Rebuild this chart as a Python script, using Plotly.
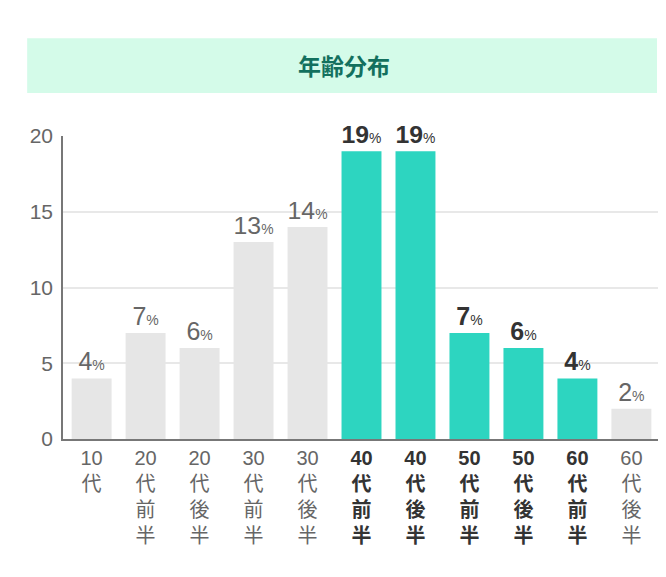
import plotly.graph_objects as go

categories = ["10<br>代", "20<br>代<br>前<br>半", "20<br>代<br>後<br>半", "30<br>代<br>前<br>半",
              "30<br>代<br>後<br>半", "40<br>代<br>前<br>半", "40<br>代<br>後<br>半", "50<br>代<br>前<br>半",
              "50<br>代<br>後<br>半", "60<br>代<br>前<br>半", "60<br>代<br>後<br>半"]
values = [4, 7, 6, 13, 14, 19, 19, 7, 6, 4, 2]
highlight = [False, False, False, False, False, True, True, True, True, True, False]

bar_colors = ["#2dd5c0" if h else "#e6e6e6" for h in highlight]
label_colors = ["#333333" if h else "#666666" for h in highlight]
texts = [f"<b>{v}</b><span style='font-size:14px'>%</span>" if h
         else f"{v}<span style='font-size:14px'>%</span>" for v, h in zip(values, highlight)]
ticks = [f"<b><span style='color:#333333'>{c}</span></b>" if h else c for c, h in zip(categories, highlight)]

fig = go.Figure(go.Bar(
    x=list(range(len(values))), y=values,
    marker=dict(color=bar_colors, line_width=0),
    text=texts, textposition="outside", cliponaxis=False,
    textfont=dict(size=25, color=label_colors, family="Liberation Sans, Noto Sans CJK JP"),
))

fig.update_layout(
    width=666, height=577, paper_bgcolor="white", plot_bgcolor="white",
    margin=dict(l=55, r=14, t=128, b=146, autoexpand=False),
    bargap=0.26, showlegend=False,
    font=dict(family="Liberation Sans, Noto Sans CJK JP", color="#666666"),
    shapes=[dict(type="rect", xref="paper", yref="paper", x0=-0.06, x1=0.995,
                 y0=1.142, y1=1.323, fillcolor="#d4fbe9", line_width=0, layer="below")],
    annotations=[dict(text="<b>年齢分布</b>", xref="paper", yref="paper", x=0.47, y=1.234,
                      yanchor="middle", showarrow=False,
                      font=dict(size=23, color="#13705e", family="Noto Sans CJK JP"))],
)
fig.update_yaxes(range=[0, 20], dtick=5, showgrid=True, gridcolor="#e8e8e8", gridwidth=1.5,
                 showline=True, linecolor="#777777", linewidth=1.5, zeroline=False, automargin=False,
                 tickfont=dict(size=21, color="#666666"), ticks="", ticklabelstandoff=4)
fig.update_xaxes(tickvals=list(range(len(values))), ticktext=ticks, range=[-0.53, 10.53],
                 showline=True, linecolor="#777777", linewidth=1.5, automargin=False,
                 tickfont=dict(size=20, color="#666666", family="Liberation Sans, Noto Sans CJK JP"))

fig.write_html("out.html")
